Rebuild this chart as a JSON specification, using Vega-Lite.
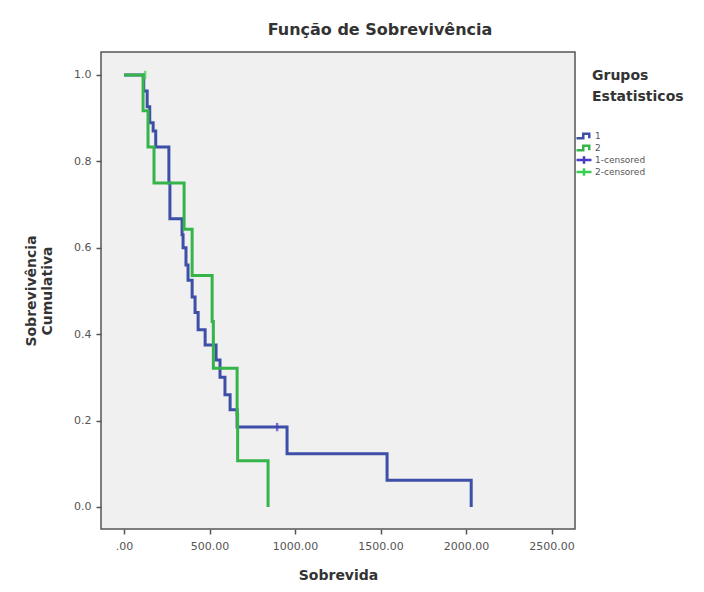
{
  "$schema": "https://vega.github.io/schema/vega-lite/v6.json",
  "autosize": "none",
  "width": 474,
  "height": 477,
  "padding": {"left": 101, "top": 52, "right": 129, "bottom": 63},
  "background": "white",
  "title": {
    "text": "Função de Sobrevivência",
    "font": "DejaVu Sans",
    "fontSize": 16,
    "fontWeight": "bold",
    "color": "#333333",
    "anchor": "middle",
    "dx": 42,
    "offset": 14
  },
  "datasets": {
    "curves": [
      {"t": 0, "s": 1.0, "grupo": "1"},
      {"t": 115, "s": 0.963, "grupo": "1"},
      {"t": 135, "s": 0.926, "grupo": "1"},
      {"t": 150, "s": 0.889, "grupo": "1"},
      {"t": 170, "s": 0.870, "grupo": "1"},
      {"t": 185, "s": 0.833, "grupo": "1"},
      {"t": 262, "s": 0.75, "grupo": "1"},
      {"t": 268, "s": 0.667, "grupo": "1"},
      {"t": 339, "s": 0.63, "grupo": "1"},
      {"t": 345, "s": 0.60, "grupo": "1"},
      {"t": 362, "s": 0.56, "grupo": "1"},
      {"t": 374, "s": 0.525, "grupo": "1"},
      {"t": 398, "s": 0.486, "grupo": "1"},
      {"t": 415, "s": 0.45, "grupo": "1"},
      {"t": 433, "s": 0.41, "grupo": "1"},
      {"t": 474, "s": 0.375, "grupo": "1"},
      {"t": 538, "s": 0.34, "grupo": "1"},
      {"t": 561, "s": 0.30, "grupo": "1"},
      {"t": 590, "s": 0.26, "grupo": "1"},
      {"t": 620, "s": 0.225, "grupo": "1"},
      {"t": 661, "s": 0.185, "grupo": "1"},
      {"t": 953, "s": 0.123, "grupo": "1"},
      {"t": 1538, "s": 0.062, "grupo": "1"},
      {"t": 2030, "s": 0.0, "grupo": "1"},
      {"t": 0, "s": 1.0, "grupo": "2"},
      {"t": 111, "s": 0.917, "grupo": "2"},
      {"t": 140, "s": 0.833, "grupo": "2"},
      {"t": 175, "s": 0.75, "grupo": "2"},
      {"t": 351, "s": 0.643, "grupo": "2"},
      {"t": 398, "s": 0.536, "grupo": "2"},
      {"t": 515, "s": 0.429, "grupo": "2"},
      {"t": 522, "s": 0.321, "grupo": "2"},
      {"t": 661, "s": 0.214, "grupo": "2"},
      {"t": 664, "s": 0.107, "grupo": "2"},
      {"t": 842, "s": 0.0, "grupo": "2"}
    ],
    "censored": [
      {"t": 895, "s": 0.185, "grupo": "1-censored"},
      {"t": 123, "s": 1.0, "grupo": "2-censored"}
    ]
  },
  "encoding": {
    "x": {
      "field": "t",
      "type": "quantitative",
      "scale": {"domain": [-135, 2637], "nice": false, "zero": false},
      "axis": {
        "title": "Sobrevida",
        "values": [0, 500, 1000, 1500, 2000, 2500],
        "labelExpr": "datum.value == 0 ? '.00' : format(datum.value, '.2f')"
      }
    },
    "y": {
      "field": "s",
      "type": "quantitative",
      "scale": {"domain": [-0.051, 1.053], "nice": false, "zero": false},
      "axis": {
        "title": ["Sobrevivência", "Cumulativa"],
        "values": [0, 0.2, 0.4, 0.6, 0.8, 1.0],
        "format": ".1f"
      }
    },
    "color": {
      "field": "grupo",
      "type": "nominal",
      "scale": {
        "domain": ["1", "2", "1-censored", "2-censored"],
        "range": ["#3d4fa6", "#35b44a", "#4a3cc4", "#3ccf55"]
      },
      "legend": {
        "orient": "none",
        "legendX": 474,
        "legendY": 17,
        "padding": 0,
        "title": ["Grupos", "Estatisticos"],
        "titleFont": "DejaVu Sans",
        "titleFontSize": 14,
        "titleFontWeight": "bold",
        "titleColor": "#333333",
        "titleLineHeight": 21,
        "titlePadding": 26,
        "labelFont": "DejaVu Sans",
        "labelFontSize": 9,
        "labelColor": "#555555",
        "labelOffset": 2,
        "rowPadding": 0,
        "clipHeight": 12,
        "symbolSize": 225,
        "symbolStrokeWidth": 2.5,
        "symbolFillColor": "transparent",
        "encode": {
          "title": {"update": {"dx": {"value": 17}}},
          "symbols": {
            "update": {
              "shape": {"signal": "indexof(datum.label, 'censored') >= 0 ? 'M-1,0H1M0,-0.5V0.5' : 'M-1,0.3H-0.1V-0.3H0.7V0.3'"},
              "fill": {"value": "transparent"}
            }
          }
        }
      }
    }
  },
  "layer": [
    {
      "data": {"name": "curves"},
      "mark": {"type": "line", "interpolate": "step-after", "strokeWidth": 3},
      "encoding": {"detail": {"field": "grupo"}}
    },
    {
      "data": {"name": "censored"},
      "mark": {"type": "point", "shape": "M0,-1V1", "size": 70, "strokeWidth": 2.5, "filled": false}
    }
  ],
  "config": {
    "font": "DejaVu Sans",
    "view": {"fill": "#f0f0f0", "stroke": "#555555", "strokeWidth": 1.5},
    "axis": {
      "domain": false,
      "grid": false,
      "ticks": true,
      "tickSize": 5,
      "tickColor": "#555555",
      "tickWidth": 1.5,
      "labelFont": "DejaVu Sans",
      "labelFontSize": 11,
      "labelColor": "#555555",
      "labelPadding": 5,
      "titleFont": "DejaVu Sans",
      "titleFontSize": 14,
      "titleFontWeight": "bold",
      "titleColor": "#333333"
    },
    "axisX": {"titlePadding": 17, "labelPadding": 6},
    "axisY": {"titlePadding": 19, "titleLineHeight": 16}
  }
}
